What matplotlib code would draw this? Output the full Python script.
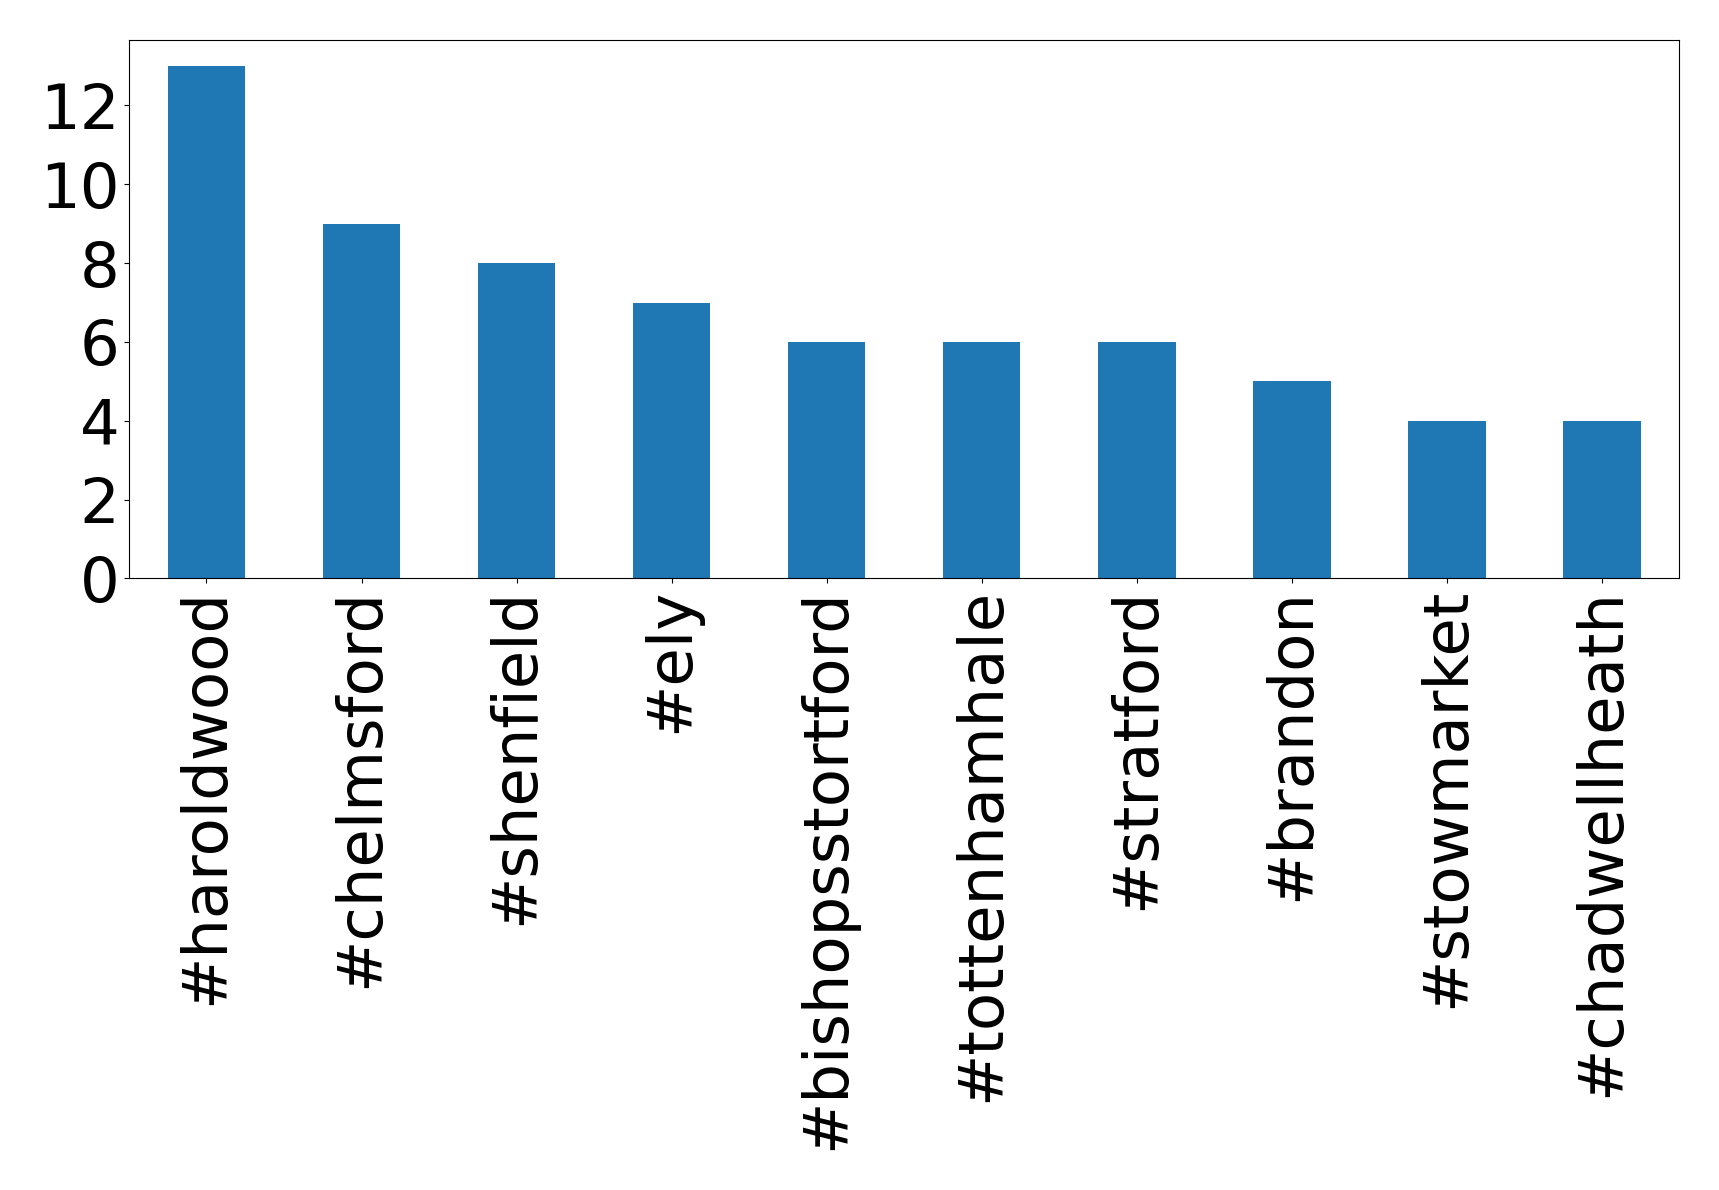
import matplotlib
matplotlib.use("Agg")
import matplotlib.pyplot as plt
import pandas as pd

# hashtag counts
tags = ["#haroldwood", "#chelmsford", "#shenfield", "#ely", "#bishopsstortford",
        "#tottenhamhale", "#stratford", "#brandon", "#stowmarket", "#chadwellheath"]
counts = [13, 9, 8, 7, 6, 6, 6, 5, 4, 4]

s = pd.Series(counts, index=tags)

fig, ax = plt.subplots(figsize=(17.19, 11.9), dpi=100)
s.plot(kind="bar", ax=ax, color="#1f77b4", fontsize=45)
ax.set_xlim(-0.5, 9.5)
fig.subplots_adjust(left=0.075, right=0.977, top=0.966, bottom=0.514)
fig.savefig("out.png", dpi=100)
